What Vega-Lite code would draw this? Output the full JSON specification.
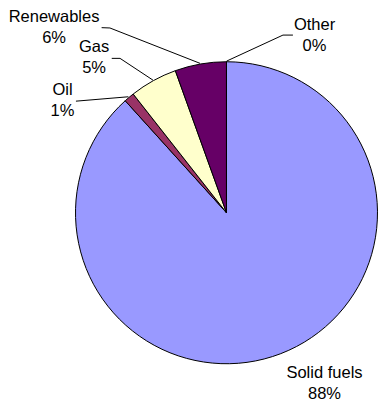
{
  "$schema": "https://vega.github.io/schema/vega-lite/v6.json",
  "width": 379,
  "height": 401,
  "autosize": "none",
  "padding": 0,
  "background": "white",
  "config": {"view": {"stroke": null}},
  "datasets": {
    "slices": [
      {"name": "Solid fuels", "share": 88.3, "k": 1},
      {"name": "Oil", "share": 1.1, "k": 2},
      {"name": "Gas", "share": 5.1, "k": 3},
      {"name": "Renewables", "share": 5.5, "k": 4},
      {"name": "Other", "share": 0.0, "k": 5}
    ],
    "labels": [
      {"label": "Renewables\n6%", "u": -1.142, "v": 1.297},
      {"label": "Gas\n5%", "u": -0.877, "v": 1.095},
      {"label": "Oil\n1%", "u": -1.086, "v": 0.809},
      {"label": "Other\n0%", "u": 0.583, "v": 1.244},
      {"label": "Solid fuels\n88%", "u": 0.649, "v": -1.06}
    ],
    "leaders": [
      {"name": "Renewables", "p": 1, "u": -0.827, "v": 1.224},
      {"name": "Renewables", "p": 2, "u": -0.772, "v": 1.222},
      {"name": "Renewables", "p": 3, "u": -0.175, "v": 0.988},
      {"name": "Other", "p": 1, "u": 0.001, "v": 1.003},
      {"name": "Other", "p": 2, "u": 0.374, "v": 1.175},
      {"name": "Other", "p": 3, "u": 0.44, "v": 1.175},
      {"name": "Gas", "p": 1, "u": -0.76, "v": 1.021},
      {"name": "Gas", "p": 2, "u": -0.705, "v": 1.021},
      {"name": "Gas", "p": 3, "u": -0.487, "v": 0.877},
      {"name": "Oil", "p": 1, "u": -0.997, "v": 0.738},
      {"name": "Oil", "p": 2, "u": -0.65, "v": 0.767}
    ]
  },
  "layer": [
    {
      "data": {"name": "slices"},
      "mark": {"type": "arc", "outerRadius": 151, "stroke": "black", "strokeWidth": 1},
      "encoding": {
        "theta": {"field": "share", "type": "quantitative", "stack": true},
        "order": {"field": "k", "type": "quantitative"},
        "color": {
          "field": "name", "type": "nominal", "legend": null,
          "scale": {
            "domain": ["Solid fuels", "Oil", "Gas", "Renewables", "Other"],
            "range": ["#9999FF", "#993366", "#FFFFCC", "#660066", "#CCFFFF"]
          }
        },
        "x": {"datum": 0, "type": "quantitative", "scale": {"domain": [-1.5, 1.01], "nice": false, "zero": false}, "axis": null},
        "y": {"datum": 0, "type": "quantitative", "scale": {"domain": [-1.245, 1.407], "nice": false, "zero": false}, "axis": null}
      }
    },
    {
      "data": {"name": "leaders"},
      "mark": {"type": "line", "color": "black", "strokeWidth": 1},
      "encoding": {
        "x": {"field": "u", "type": "quantitative"},
        "y": {"field": "v", "type": "quantitative"},
        "detail": {"field": "name"},
        "order": {"field": "p", "type": "quantitative"}
      }
    },
    {
      "data": {"name": "labels"},
      "mark": {"type": "text", "font": "Liberation Sans", "fontSize": 16.5, "lineBreak": "\n", "lineHeight": 21, "align": "center", "baseline": "middle", "color": "black"},
      "encoding": {
        "x": {"field": "u", "type": "quantitative"},
        "y": {"field": "v", "type": "quantitative"},
        "text": {"field": "label"}
      }
    }
  ]
}
